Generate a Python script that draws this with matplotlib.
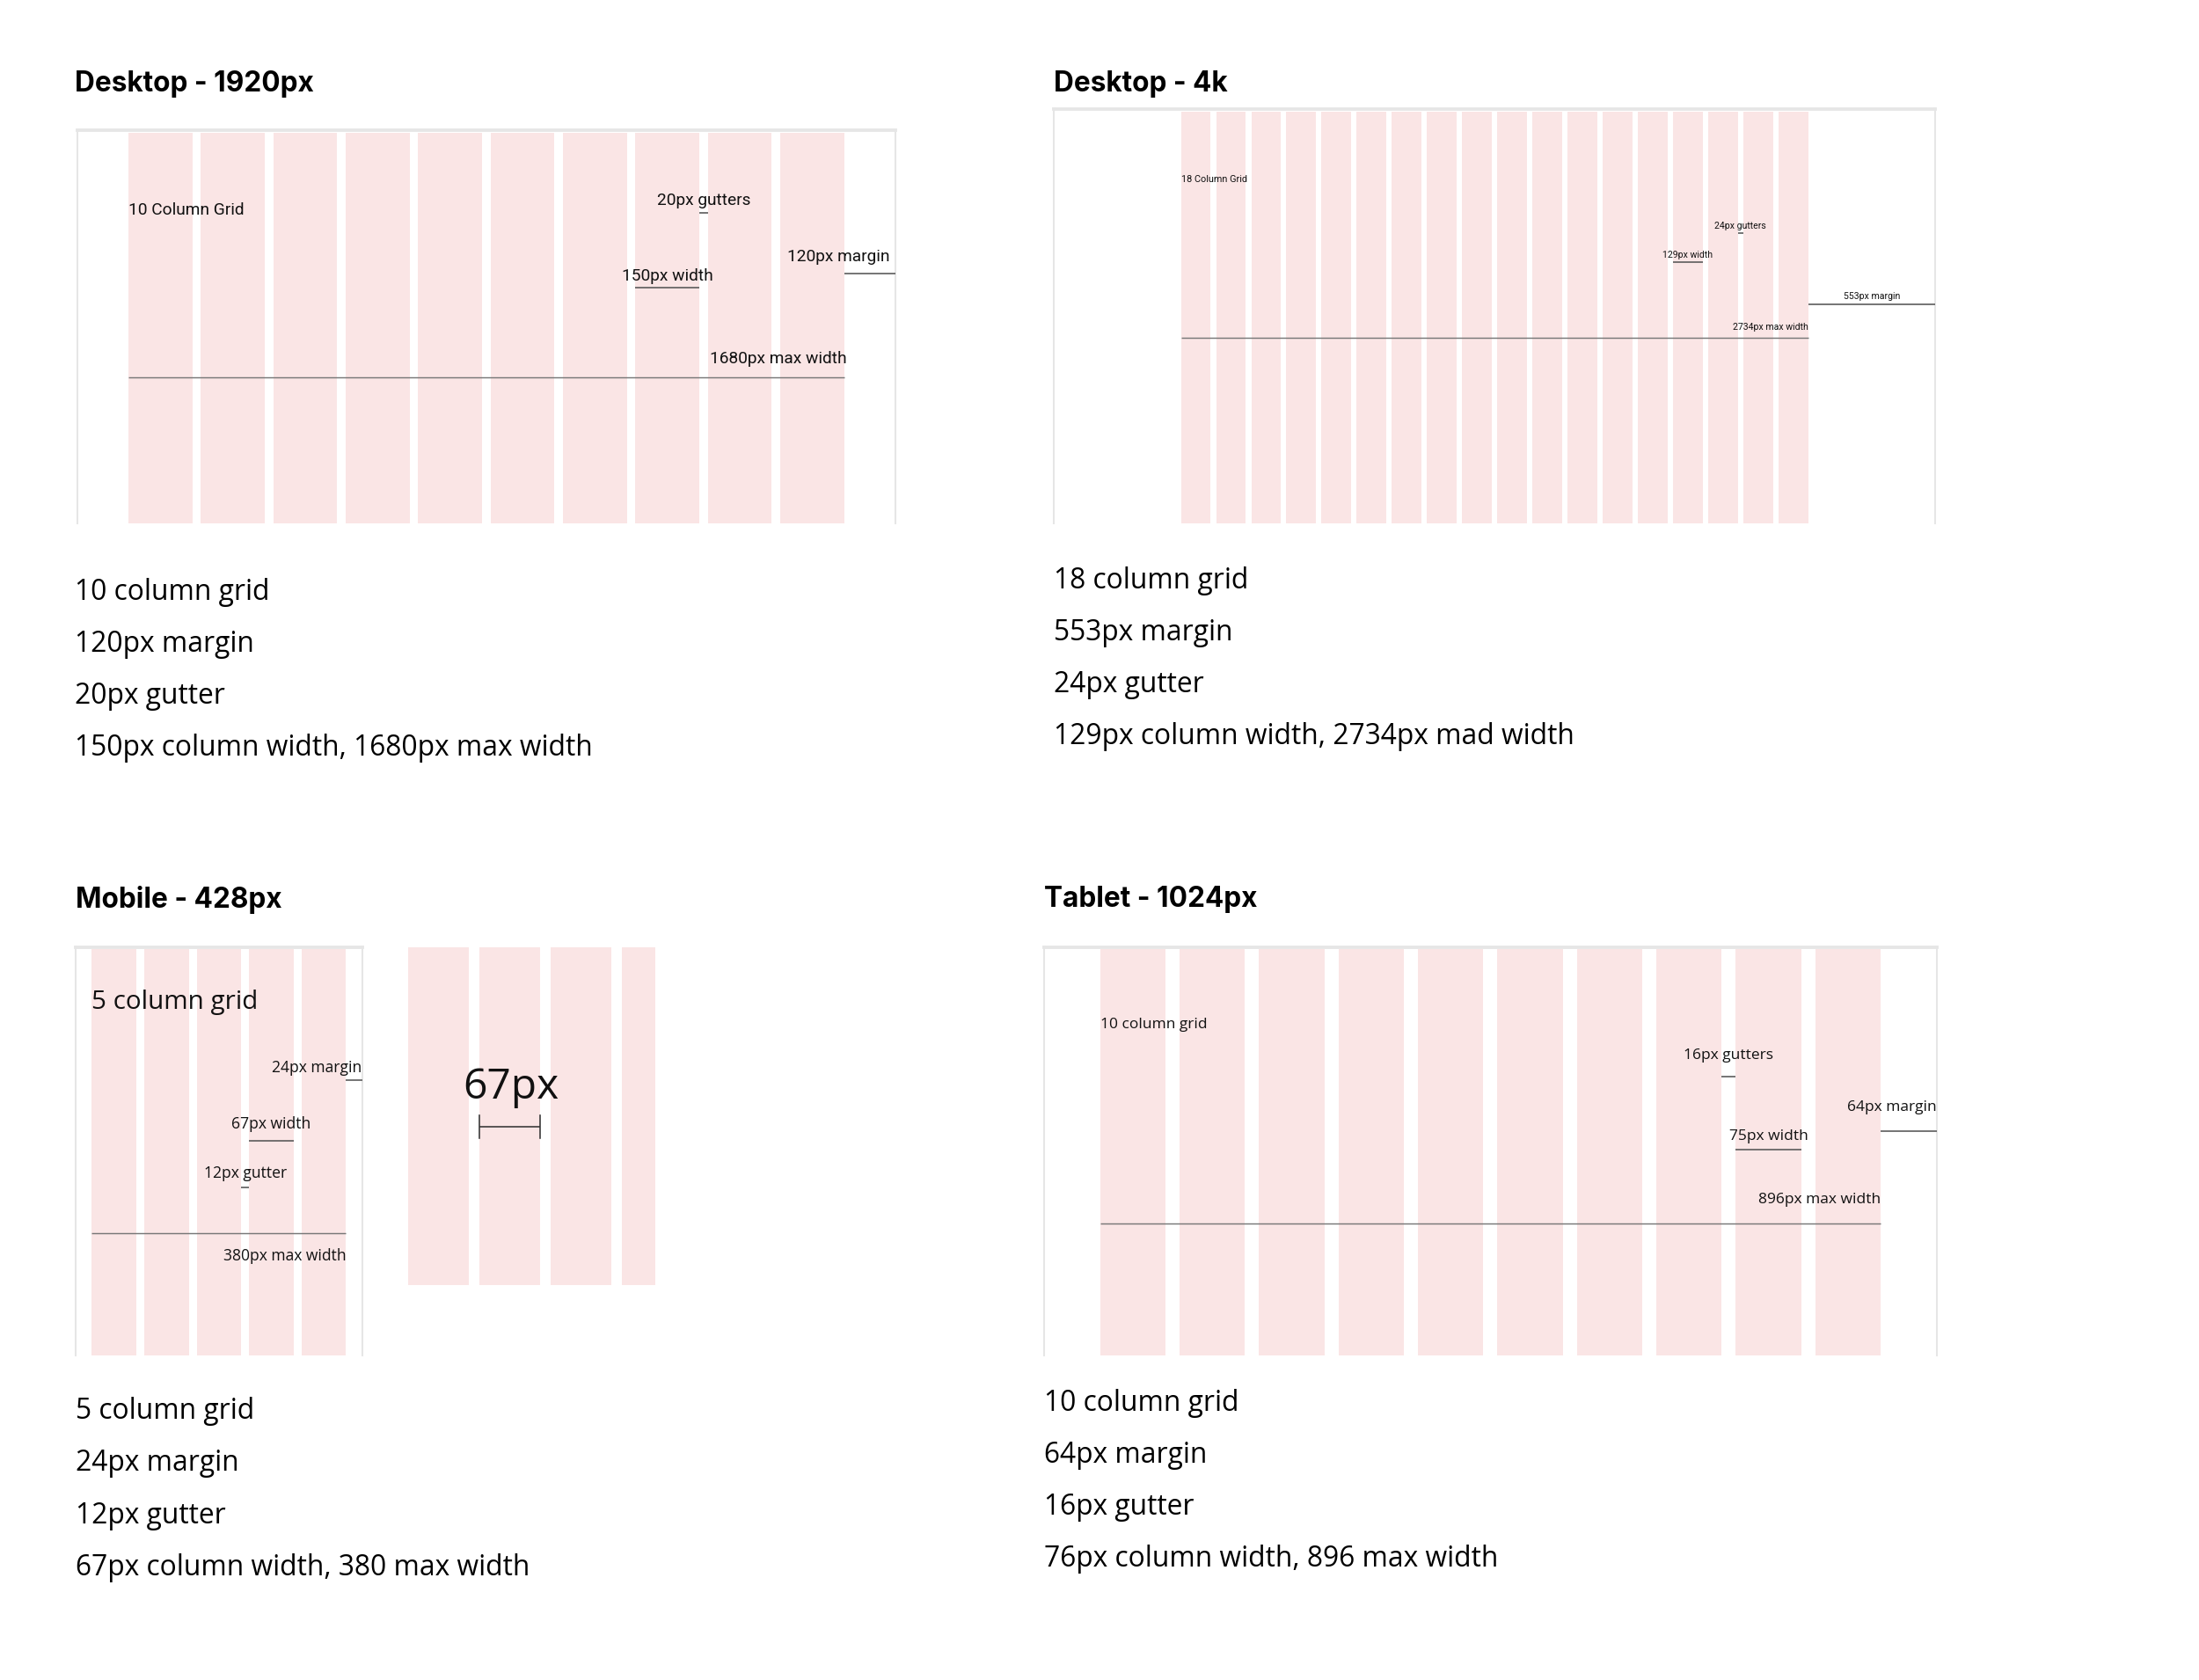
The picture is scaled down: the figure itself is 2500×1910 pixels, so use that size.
import matplotlib
matplotlib.use("Agg")
import matplotlib.pyplot as plt
from matplotlib.patches import Rectangle

# canvas is laid out in "view" units (the reference at ~1567 x 1197)
VIEW_W, VIEW_H = 1567, 1197.2
PT = (2500 / VIEW_W) * 72 / 100  # view px -> points at 100 dpi

PINK = "#fae5e5"
FRAME = "#e6e6e6"
INK = "#111111"
RULE = "#555555"

# grid specs (design px)
panel_names = ["Desktop - 1920px", "Desktop - 4k", "Mobile - 428px", "Tablet - 1024px"]
n_columns = [10, 18, 5, 10]
margins = [120, 553, 24, 64]
gutters = [20, 24, 12, 16]
col_widths = [150, 129, 67, 75]

# description lines under each panel
notes = [
    ["10 column grid", "120px margin", "20px gutter", "150px column width, 1680px max width"],
    ["18 column grid", "553px margin", "24px gutter", "129px column width, 2734px mad width"],
    ["5 column grid", "24px margin", "12px gutter", "67px column width, 380 max width"],
    ["10 column grid", "64px margin", "16px gutter", "76px column width, 896 max width"],
]
grid_labels = ["10 Column Grid", "18 Column Grid", "5 column grid", "10 column grid"]
gutter_labels = ["20px gutters", "24px gutters", "12px gutter", "16px gutters"]
width_labels = ["150px width", "129px width", "67px width", "75px width"]
margin_labels = ["120px margin", "553px margin", "24px margin", "64px margin"]
max_labels = ["1680px max width", "2734px max width", "380px max width", "896px max width"]

# zoomed mobile strip
zoom_label = "67px"
zoom_columns = 4

fig = plt.figure(figsize=(25, 19.1), dpi=100)
ax = fig.add_axes([0, 0, 1, 1])
ax.set_xlim(0, VIEW_W)
ax.set_ylim(VIEW_H, 0)
ax.axis("off")

# layout of each panel: frame left, top, width, bottom, title pos, notes pos
layout = [
    dict(x0=55, top=93, w=583, bottom=373, title=(53, 60), notes=(53, 422)),
    dict(x0=751, top=78, w=628, bottom=373, title=(751, 60), notes=(751, 414)),
    dict(x0=54, top=675, w=204, bottom=966, title=(54, 641), notes=(54, 1006)),
    dict(x0=744, top=675, w=636, bottom=966, title=(744, 641), notes=(744, 1000)),
]

# annotation rows (view y): grid label, gutter text/line, width text/line,
# margin text/line, max text/line; plus which columns the gutter/width mark
ann = [
    dict(grid=150, gut=(143, 152), wid=(197, 205), mar=(183, 195), mx=(256, 269),
         gcol=7, wcol=7, fam="Roboto", fs=12.0, gfs=12.0, mar_ha="right", mx_pad=2),
    dict(grid=128, gut=(161, 166), wid=(182, 187), mar=(211, 217), mx=(233, 241),
         gcol=15, wcol=14, fam="Roboto", fs=6.6, gfs=6.8, mar_ha="center", mx_pad=0),
    dict(grid=714, gut=(836, 846), wid=(801, 813), mar=(761, 770), mx=(895, 879),
         gcol=2, wcol=3, fam="Open Sans", fs=11.0, gfs=18.6, mar_ha="right", mx_pad=0),
    dict(grid=730, gut=(752, 767), wid=(810, 819), mar=(789, 806), mx=(855, 872),
         gcol=7, wcol=8, fam="Open Sans", fs=10.9, gfs=10.9, mar_ha="right", mx_pad=0),
]


def hline(x1, x2, y, color=RULE, lw=1.0):
    ax.plot([x1, x2], [y, y], color=color, lw=lw * PT, solid_capstyle="butt")


for i, lay in enumerate(layout):
    n, m, g, c = n_columns[i], margins[i], gutters[i], col_widths[i]
    total = 2 * m + n * c + (n - 1) * g
    s = lay["w"] / total
    x0, top, bot = lay["x0"], lay["top"], lay["bottom"]
    x1 = x0 + lay["w"]

    # frame: heavier top edge, thin sides, open bottom
    ax.plot([x0, x1], [top, top], color=FRAME, lw=2.4 * PT)
    ax.plot([x0, x0], [top, bot], color=FRAME, lw=1.3 * PT)
    ax.plot([x1, x1], [top, bot], color=FRAME, lw=1.3 * PT)

    starts = [x0 + s * (m + k * (c + g)) for k in range(n)]
    cw = s * c
    for xs in starts:
        ax.add_patch(Rectangle((xs, top + 1.5), cw, bot - top - 1.5,
                               facecolor=PINK, edgecolor="none", zorder=1))

    a = ann[i]
    fam = [a["fam"], "DejaVu Sans"]
    fs = a["fs"] * PT
    first, last = starts[0], starts[-1] + cw

    ax.text(first, a["grid"], grid_labels[i], fontsize=a["gfs"] * PT,
            family=fam, color=INK, va="center", ha="left", zorder=3)

    # gutter mark
    gx1 = starts[a["gcol"]] + cw
    gx2 = starts[a["gcol"] + 1]
    ax.text((gx1 + gx2) / 2, a["gut"][0], gutter_labels[i], fontsize=fs,
            family=fam, color=INK, va="center", ha="center", zorder=3)
    hline(gx1, gx2, a["gut"][1])

    # column width mark
    wx1 = starts[a["wcol"]]
    wx2 = wx1 + cw
    ax.text((wx1 + wx2) / 2, a["wid"][0], width_labels[i], fontsize=fs,
            family=fam, color=INK, va="center", ha="center", zorder=3)
    hline(wx1, wx2, a["wid"][1])

    # margin mark
    if a["mar_ha"] == "right":
        ax.text(x1 - (4 if i == 0 else 0), a["mar"][0], margin_labels[i],
                fontsize=fs, family=fam, color=INK, va="center", ha="right",
                zorder=3)
    else:
        ax.text((last + x1) / 2, a["mar"][0], margin_labels[i], fontsize=fs,
                family=fam, color=INK, va="center", ha="center", zorder=3)
    hline(last, x1, a["mar"][1])

    # max width mark
    ax.text(last + a["mx_pad"], a["mx"][0], max_labels[i], fontsize=fs,
            family=fam, color=INK, va="center", ha="right", zorder=3)
    hline(first, last, a["mx"][1], color="#777777", lw=0.9)

    # titles and notes
    tx, ty = lay["title"]
    ax.text(tx, ty, panel_names[i], fontsize=19.8 * PT, family=["Inter", "DejaVu Sans"],
            fontweight="bold", color="black", va="center", ha="left")
    nx, ny = lay["notes"]
    for k, line in enumerate(notes[i]):
        ax.text(nx, ny + 37 * k, line, fontsize=19.9 * PT,
                family=["Open Sans", "DejaVu Sans"], color="black",
                va="center", ha="left")

# zoomed mobile columns
zx0, ztop, zbot, zclip = 291, 675, 916, 467
zs = 43 / col_widths[2]
zstarts = [zx0 + zs * k * (col_widths[2] + gutters[2]) for k in range(zoom_columns)]
zcw = zs * col_widths[2]
for xs in zstarts:
    w = min(zcw, zclip - xs)
    ax.add_patch(Rectangle((xs, ztop), w, zbot - ztop, facecolor=PINK,
                           edgecolor="none", zorder=1))
ax.text(364, 775, zoom_label, fontsize=30 * PT, family=["Open Sans", "DejaVu Sans"],
        color=INK, va="center", ha="center", zorder=3)
bx1, bx2 = zstarts[1], zstarts[1] + zcw
hline(bx1, bx2, 803, color="#333333", lw=1.0)
for bx in (bx1, bx2):
    ax.plot([bx, bx], [795, 811], color="#333333", lw=1.0 * PT)

fig.savefig("out.png", dpi=100, facecolor="white")
